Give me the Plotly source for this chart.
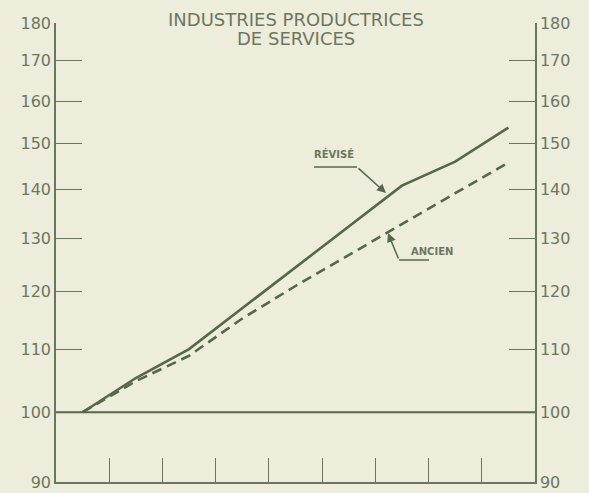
import plotly.graph_objects as go
import math

# ---- data ----
periods = [0, 1, 2, 3, 4, 5, 6, 7, 8]
revise = [100, 105.3, 110.0, 117.0, 124.4, 132.2, 140.8, 146.0, 153.7]
ancien = [100, 104.8, 108.9, 115.2, 121.0, 126.8, 133.0, 139.2, 145.8]
y_ticks = [90, 100, 110, 120, 130, 140, 150, 160, 170, 180]
x_ticks = [0.5, 1.5, 2.5, 3.5, 4.5, 5.5, 6.5, 7.5]
title_lines = ["INDUSTRIES PRODUCTRICES", "DE SERVICES"]
label_revise = "RÉVISÉ"
label_ancien = "ANCIEN"

W, H = 589, 493
L, R, T, B = 56, 535, 23, 482
BG = "#ecedda"
LINE = "#56674a"
AX = "#6a765e"
TXT = "#6d775f"
FONT = "DejaVu Sans"

def px(x):
    return (x - L) / (R - L)

def py(y):
    return (B - y) / (B - T)

fig = go.Figure()
fig.add_trace(go.Scatter(x=periods, y=revise, mode="lines",
                         line=dict(color=LINE, width=2.6), showlegend=False))
fig.add_trace(go.Scatter(x=periods, y=ancien, mode="lines",
                         line=dict(color=LINE, width=2.6, dash="10px,6px"), showlegend=False))
# invisible trace for right axis
fig.add_trace(go.Scatter(x=[periods[0]], y=[100], yaxis="y2", mode="lines",
                         line=dict(width=0), showlegend=False, hoverinfo="skip"))

fig.add_hline(y=100, line=dict(color=LINE, width=2))

yr = [math.log10(90), math.log10(180)]
yax = dict(type="log", range=yr, tickvals=y_ticks, ticktext=[str(v) for v in y_ticks],
           ticks="inside", ticklen=26, tickwidth=1.2, tickcolor=AX, automargin=False,
           showline=True, linecolor=AX, linewidth=1.5, showgrid=False, zeroline=False,
           tickfont=dict(family=FONT, size=16, color=TXT))
fig.update_layout(
    width=W, height=H,
    margin=dict(l=L, r=W - R, t=T, b=H - B, pad=0, autoexpand=False),
    paper_bgcolor=BG, plot_bgcolor=BG,
    xaxis=dict(range=[-0.5, 8.5], tickvals=x_ticks, showticklabels=False, automargin=False,
               ticks="inside", ticklen=24, tickwidth=1.2, tickcolor=AX,
               showline=True, linecolor=AX, linewidth=1.5, showgrid=False, zeroline=False),
    yaxis=dict(**yax, side="left"),
    yaxis2=dict(**yax, side="right", overlaying="y", matches="y"),
    showlegend=False,
)

# title (two lines)
for txt, yc in zip(title_lines, [19, 38]):
    fig.add_annotation(text=txt, xref="paper", yref="paper", x=px(296), y=py(yc),
                       xanchor="center", yanchor="middle", showarrow=False,
                       font=dict(family=FONT, size=18, color=TXT))

# RÉVISÉ label + leader
fig.add_annotation(text="<b>" + label_revise + "</b>", xref="paper", yref="paper", x=px(334), y=py(154),
                   xanchor="center", yanchor="middle", showarrow=False,
                   font=dict(family=FONT, size=10, color=TXT))
fig.add_shape(type="line", xref="paper", yref="paper", x0=px(314), y0=py(167), x1=px(357), y1=py(167),
              line=dict(color=LINE, width=1.5))
fig.add_annotation(text="", xref="paper", yref="paper", x=px(386), y=py(193),
                   ax=357 - 386, ay=167 - 193, showarrow=True, arrowhead=2, arrowsize=1.2,
                   arrowwidth=1.5, arrowcolor=LINE)

# ANCIEN label + leader
fig.add_annotation(text="<b>" + label_ancien + "</b>", xref="paper", yref="paper", x=px(432), y=py(251),
                   xanchor="center", yanchor="middle", showarrow=False,
                   font=dict(family=FONT, size=10, color=TXT))
fig.add_shape(type="line", xref="paper", yref="paper", x0=px(399), y0=py(260), x1=px(429), y1=py(260),
              line=dict(color=LINE, width=1.5))
fig.add_annotation(text="", xref="paper", yref="paper", x=px(388), y=py(233),
                   ax=399 - 388, ay=260 - 233, showarrow=True, arrowhead=2, arrowsize=1.2,
                   arrowwidth=1.5, arrowcolor=LINE)

fig.write_html("out.html", config={"displayModeBar": False},
               post_script="document.body.style.margin='0';document.body.style.overflow='hidden';")
